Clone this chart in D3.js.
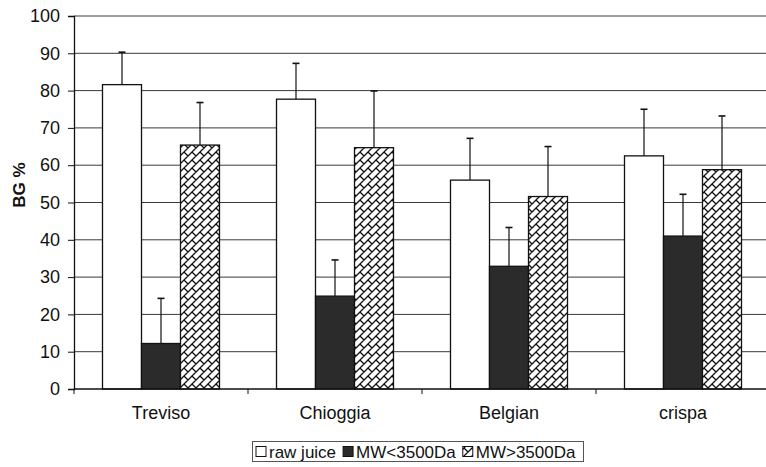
<!DOCTYPE html>
<html><head><meta charset="utf-8">
<script src="https://cdn.jsdelivr.net/npm/d3@7"></script>
<style>body{margin:0;background:#fff}svg{display:block;font-family:"Liberation Sans",Arial,sans-serif}</style>
</head><body>
<svg id="c" width="766" height="467"></svg>
<script>
const categories = ["Treviso", "Chioggia", "Belgian", "crispa"];
const seriesNames = ["raw juice", "MW<3500Da", "MW>3500Da"];
const rawJuice = [81.6, 77.7, 56.0, 62.5];
const rawJuiceErr = [8.7, 9.6, 11.2, 12.5];
const mwLow = [12.2, 24.9, 32.9, 41.0];
const mwLowErr = [12.1, 9.7, 10.4, 11.2];
const mwHigh = [65.4, 64.7, 51.6, 58.8];
const mwHighErr = [11.4, 15.2, 13.4, 14.4];
const yTicks = [0, 10, 20, 30, 40, 50, 60, 70, 80, 90, 100];

(function () {
const svg = d3.select("#c");
const defs = svg.append("defs");
const pat = defs.append("pattern").attr("id", "brick").attr("patternUnits", "userSpaceOnUse")
  .attr("width", 8).attr("height", 8);
pat.append("rect").attr("width", 8).attr("height", 8).attr("fill", "#fff");
pat.append("path").attr("d", "M-1,9 L9,-1 M-1,1 L1,-1 M7,9 L9,7 M0,0 L4,4")
  .attr("stroke", "#111").attr("stroke-width", 1.3).attr("fill", "none");

const pL = 74, pR = 770, pT = 16, pB = 389;
const x = d3.scaleBand().domain(categories).range([pL, pR]).paddingInner(0).paddingOuter(0);
const y = d3.scaleLinear().domain([0, 100]).range([pB, pT]);

// gridlines
svg.append("g").selectAll("line").data(yTicks.filter(t => t > 0)).join("line")
  .attr("x1", pL).attr("x2", 766).attr("y1", d => y(d)).attr("y2", d => y(d))
  .attr("stroke", "#3a3a3a").attr("stroke-width", 1);

const data = seriesNames.map((s, i) => ({
  name: s,
  vals: [rawJuice, mwLow, mwHigh][i],
  errs: [rawJuiceErr, mwLowErr, mwHighErr][i],
  fill: ["#fff", "#2b2b2b", "url(#brick)"][i]
}));

const bw = x.bandwidth() * 117 / 174;
const x1b = d3.scaleBand().domain(seriesNames).range([0, bw]);
const gOff = (x.bandwidth() - bw) / 2;
const cx = (c, s) => x(c) + gOff + x1b(s) + x1b.bandwidth() / 2;

data.forEach(s => {
  const g = svg.append("g");
  g.selectAll("line.err").data(categories).join("line").attr("class", "err")
    .attr("x1", c => cx(c, s.name)).attr("x2", c => cx(c, s.name))
    .attr("y1", (c, i) => y(s.vals[i])).attr("y2", (c, i) => y(s.vals[i] + s.errs[i]))
    .attr("stroke", "#111").attr("stroke-width", 1.2);
  g.selectAll("line.cap").data(categories).join("line").attr("class", "cap")
    .attr("x1", c => cx(c, s.name) - 3.5).attr("x2", c => cx(c, s.name) + 3.5)
    .attr("y1", (c, i) => y(s.vals[i] + s.errs[i])).attr("y2", (c, i) => y(s.vals[i] + s.errs[i]))
    .attr("stroke", "#111").attr("stroke-width", 1.6);
  g.selectAll("rect").data(categories).join("rect")
    .attr("x", c => x(c) + gOff + x1b(s.name))
    .attr("width", x1b.bandwidth())
    .attr("y", (c, i) => y(s.vals[i]))
    .attr("height", (c, i) => y(0) - y(s.vals[i]))
    .attr("fill", s.fill).attr("stroke", "#111").attr("stroke-width", 1.3);
});

// y axis
const ya = svg.append("g").attr("transform", `translate(${pL},0)`)
  .call(d3.axisLeft(y).tickValues(yTicks).tickSize(6).tickPadding(8));
ya.select(".domain").attr("stroke", "#111").attr("stroke-width", 1.3);
ya.selectAll(".tick line").attr("stroke", "#111");
ya.selectAll("text").attr("font-size", 18).attr("fill", "#111").attr("font-family", "Liberation Sans, Arial, sans-serif");

// x axis
const xa = svg.append("g").attr("transform", `translate(0,${pB})`);
xa.append("line").attr("x1", pL).attr("x2", 766).attr("y1", 0).attr("y2", 0).attr("stroke", "#111").attr("stroke-width", 1.3);
xa.selectAll("line.t").data(categories.map(c => x(c)).concat([x(categories[3]) + x.bandwidth()])).join("line").attr("class", "t")
  .attr("x1", d => d).attr("x2", d => d).attr("y1", 0).attr("y2", 5).attr("stroke", "#111");
xa.selectAll("text").data(categories).join("text")
  .attr("x", c => x(c) + x.bandwidth() / 2).attr("y", 30).attr("text-anchor", "middle")
  .attr("font-size", 18).attr("fill", "#111").text(c => c);

// y label
svg.append("text").attr("transform", "translate(25,185) rotate(-90)").attr("text-anchor", "middle")
  .attr("font-size", 17).attr("font-weight", "bold").attr("fill", "#111").text("BG %");

// legend
const lg = svg.append("g");
lg.append("rect").attr("x", 252.5).attr("y", 441.5).attr("width", 331).attr("height", 20)
  .attr("fill", "#fff").attr("stroke", "#555").attr("stroke-width", 1);
let cur = 256;
data.forEach((s, i) => {
  lg.append("rect").attr("x", cur).attr("y", 446.5).attr("width", 10).attr("height", 10)
    .attr("fill", s.fill).attr("stroke", "#111").attr("stroke-width", 1);
  const t = lg.append("text").attr("x", cur + 13).attr("y", 458).attr("font-size", 17).attr("fill", "#111").text(s.name);
  cur = cur + 13 + t.node().getComputedTextLength() + 7;
});
})();
</script>
</body></html>
